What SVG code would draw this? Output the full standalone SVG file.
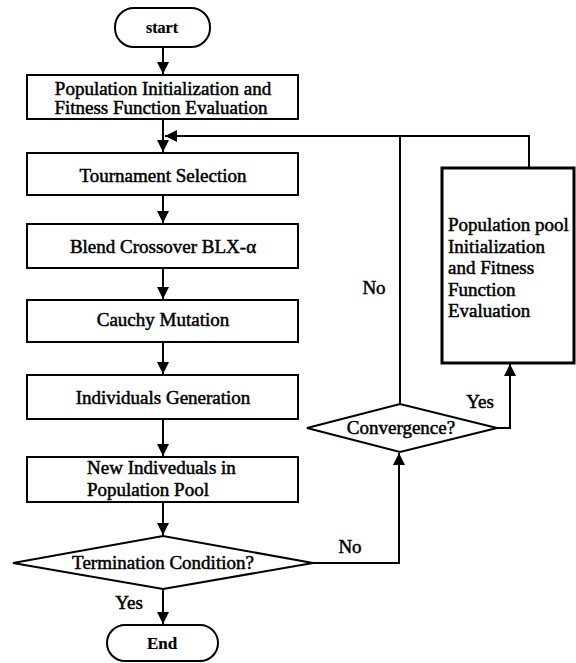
<svg xmlns="http://www.w3.org/2000/svg" width="576" height="663" viewBox="0 0 576 663">
<defs>
<style>
.box{fill:#fff;stroke:#000;stroke-width:2}
.thick{stroke-width:3}
.ln{fill:none;stroke:#000;stroke-width:2}
.t{font-family:"Liberation Serif","Times New Roman",serif;font-size:19px;fill:#000;stroke:#000;stroke-width:0.5}
.c{text-anchor:middle}
.b{font-weight:bold;font-size:16px;stroke-width:0.2}
</style>
<marker id="ah" markerUnits="userSpaceOnUse" markerWidth="13" markerHeight="12" refX="12" refY="6" orient="auto" viewBox="0 0 13 12">
<path d="M0,0 L12,6 L0,12 z" fill="#000"/>
</marker>
</defs>
<rect width="576" height="663" fill="#fff"/>
<g id="connectors">
<line class="ln" x1="163" y1="47" x2="163" y2="74" marker-end="url(#ah)"/>
<line class="ln" x1="163" y1="119" x2="163" y2="152" marker-end="url(#ah)"/>
<line class="ln" x1="163" y1="195" x2="163" y2="223" marker-end="url(#ah)"/>
<line class="ln" x1="163" y1="268" x2="163" y2="299" marker-end="url(#ah)"/>
<line class="ln" x1="163" y1="342" x2="163" y2="374" marker-end="url(#ah)"/>
<line class="ln" x1="163" y1="419" x2="163" y2="456" marker-end="url(#ah)"/>
<line class="ln" x1="163" y1="502" x2="163" y2="535" marker-end="url(#ah)"/>
<line class="ln" x1="163" y1="589" x2="163" y2="624" marker-end="url(#ah)"/>
<polyline class="ln" points="313,563 399,563 399,453" marker-end="url(#ah)"/>
<line class="ln" x1="400" y1="404" x2="400" y2="136"/>
<polyline class="ln" points="497,428 510,428 510,364" marker-end="url(#ah)"/>
<polyline class="ln" points="529,168 529,136 165,136" marker-end="url(#ah)"/>
<text class="t c" x="350" y="553">No</text>
<text class="t c" x="374" y="294">No</text>
<text class="t c" x="480" y="408">Yes</text>
<text class="t c" x="129" y="609">Yes</text>
</g>
<g id="start">
<rect class="box" x="115" y="8" width="95" height="39" rx="19"/>
<text class="t c b" x="162" y="33">start</text>
</g>
<g id="init">
<rect class="box" x="27" y="75" width="271" height="44"/>
<text class="t c" x="163" y="95">Population Initialization and</text>
<text class="t c" x="161" y="114">Fitness Function Evaluation</text>
</g>
<g id="tournament">
<rect class="box" x="27" y="153" width="271" height="42"/>
<text class="t c" x="163" y="182">Tournament Selection</text>
</g>
<g id="blend">
<rect class="box" x="27" y="224" width="271" height="44"/>
<text class="t c" x="163" y="253">Blend Crossover BLX-α</text>
</g>
<g id="cauchy">
<rect class="box" x="27" y="300" width="271" height="42"/>
<text class="t c" x="163" y="326">Cauchy Mutation</text>
</g>
<g id="indgen">
<rect class="box" x="27" y="375" width="271" height="44"/>
<text class="t c" x="163" y="404">Individuals Generation</text>
</g>
<g id="newind">
<rect class="box" x="27" y="457" width="271" height="45"/>
<text class="t" x="87" y="474">New Indiveduals in</text>
<text class="t" x="87" y="496">Population Pool</text>
</g>
<g id="termination">
<polygon class="box" points="13,563 163,536 313,563 163,589"/>
<text class="t c" x="163" y="569">Termination Condition?</text>
</g>
<g id="end">
<rect class="box" x="107" y="625" width="111" height="36" rx="18"/>
<text class="t c b" x="162" y="649" style="font-size:17px">End</text>
</g>
<g id="convergence">
<polygon class="box" points="307,428 400,404 497,428 400,452"/>
<text class="t c" x="401" y="434">Convergence?</text>
</g>
<g id="pool">
<rect class="box thick" x="442" y="168" width="132" height="195"/>
<text class="t" x="448" y="231">Population pool</text>
<text class="t" x="448" y="253">Initialization</text>
<text class="t" x="448" y="274">and Fitness</text>
<text class="t" x="448" y="296">Function</text>
<text class="t" x="448" y="317">Evaluation</text>
</g>
</svg>
